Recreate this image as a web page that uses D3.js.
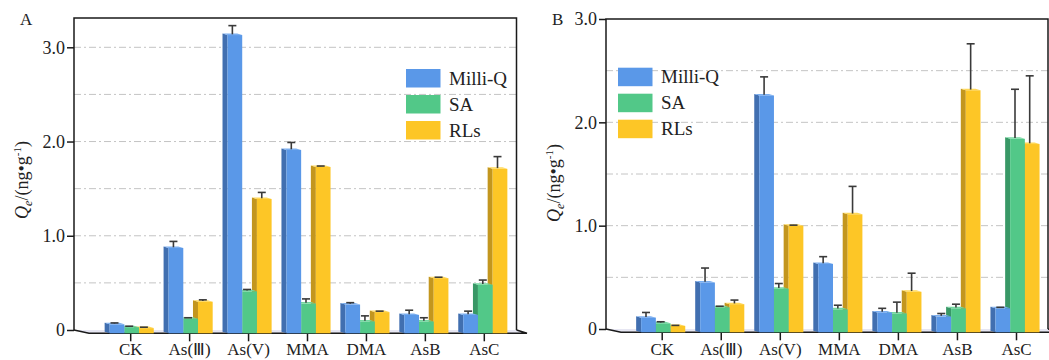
<!DOCTYPE html>
<html>
<head>
<meta charset="utf-8">
<script src="https://cdn.jsdelivr.net/npm/d3@7"></script>
<style>
  body { margin: 0; background: #fff; }
  svg { display: block; font-family: "Liberation Serif", "Times New Roman", serif; }
</style>
</head>
<body>
<svg id="chart"></svg>
<script>
const width = 1049;
const height = 360;
const svg = d3.select("svg#chart").attr("width", width).attr("height", height);

// categories and series
const categories = ["CK", "As(Ⅲ)", "As(V)", "MMA", "DMA", "AsB", "AsC"];
const seriesNames = ["Milli-Q", "SA", "RLs"];

// panel A values
const milliqA = [0.06, 0.87, 3.13, 1.91, 0.27, 0.16, 0.16];
const milliqErrA = [0.015, 0.07, 0.10, 0.08, 0.02, 0.05, 0.04];
const saA = [0.03, 0.12, 0.41, 0.28, 0.09, 0.09, 0.48];
const saErrA = [0.01, 0.01, 0.02, 0.05, 0.06, 0.04, 0.05];
const rlsA = [0.02, 0.30, 1.39, 1.73, 0.19, 0.55, 1.71];
const rlsErrA = [0.01, 0.02, 0.07, 0.01, 0.01, 0.01, 0.13];

// panel B values
const milliqB = [0.11, 0.45, 2.26, 0.63, 0.16, 0.12, 0.20];
const milliqErrB = [0.05, 0.14, 0.18, 0.07, 0.04, 0.03, 0.01];
const saB = [0.055, 0.21, 0.39, 0.19, 0.15, 0.20, 1.84];
const saErrB = [0.015, 0.01, 0.05, 0.04, 0.11, 0.04, 0.48];
const rlsB = [0.03, 0.24, 1.00, 1.11, 0.36, 2.31, 1.79];
const rlsErrB = [0.005, 0.04, 0.005, 0.27, 0.18, 0.45, 0.66];

const yTicks = [0, 1, 2, 3];
const gridValues = [0.5, 1, 1.5, 2, 2.5, 3];

// front, side, top colours per series
const colors = {
  "Milli-Q": { front: "#5a98e8", side: "#416fb0", top: "#7aaef0" },
  "SA":      { front: "#52c888", side: "#389866", top: "#74d8a0" },
  "RLs":     { front: "#fdc626", side: "#c3961e", top: "#ffd858" }
};

const font = "\"Liberation Serif\", \"Times New Roman\", serif";
const depthX = 15, depthY = 3.3;   // floor perspective
const sideX = 5, sideY = 1.5;      // bar side face
const barW = 14.7;

function drawPanel(p) {
  const g = svg.append("g").attr("class", "panel-" + p.label);

  const y = d3.scaleLinear().domain([0, 3]).range([p.y0, p.y3]);
  const x = d3.scalePoint().domain(categories).range([p.tickFirst, p.tickLast]);
  const sx = d3.scaleBand().domain(seriesNames)
    .range([-1.5 * barW + 1.5, 1.5 * barW + 1.5]).padding(0);

  const floorY = p.y0 + depthY;

  // dash-dot grid
  g.append("g").selectAll("line")
    .data(gridValues.filter(v => y(v) > p.top + 1))
    .enter().append("line")
    .attr("x1", p.axisX).attr("x2", p.rightX)
    .attr("y1", d => y(d)).attr("y2", d => y(d))
    .attr("stroke", "#c4c4c4").attr("stroke-width", 1)
    .attr("stroke-dasharray", "7,3,2,3");

  // floor
  g.append("path")
    .attr("d", "M" + p.axisX + "," + p.y0 + "L" + p.rightX + "," + p.y0 +
      "L" + p.floorRight + "," + floorY + "L" + (p.axisX + depthX) + "," + floorY + "Z")
    .attr("fill", "#e6e6f2").attr("stroke", "none");
  g.append("path")
    .attr("d", "M" + p.axisX + "," + p.y0 + "L" + (p.axisX + depthX) + "," + floorY +
      "L" + p.floorRight + "," + floorY + "L" + p.rightX + "," + p.y0)
    .attr("fill", "none").attr("stroke", "#1a1a1a").attr("stroke-width", 1.5);

  // frame
  g.append("path")
    .attr("d", "M" + p.axisX + "," + p.y0 + "V" + p.top + "H" + p.rightX + "V" + p.y0)
    .attr("fill", "none").attr("stroke", "#1a1a1a").attr("stroke-width", 1.5);

  // y axis
  const yAxis = g.append("g")
    .attr("transform", "translate(" + p.axisX + ",0)")
    .call(d3.axisLeft(y).tickValues(yTicks).tickSize(7).tickPadding(2)
      .tickFormat(d => d === 0 ? "0" : d3.format(".1f")(d)));
  yAxis.select(".domain").remove();
  yAxis.selectAll("line").attr("stroke", "#1a1a1a").attr("stroke-width", 1.5);
  yAxis.selectAll("text").style("font-family", font).style("font-size", "18px").attr("fill", "#222");

  // x axis
  const xAxis = g.append("g")
    .attr("transform", "translate(0," + floorY + ")")
    .call(d3.axisBottom(x).tickSize(8));
  xAxis.select(".domain").remove();
  xAxis.selectAll("line").attr("stroke", "#1a1a1a").attr("stroke-width", 1.5);
  xAxis.selectAll("text")
    .attr("y", 355 - floorY).attr("dy", 0)
    .style("font-family", font).style("font-size", "17px").attr("fill", "#222");

  // bars
  const rows = categories.map((c, i) => ({
    cat: c,
    vals: [
      { s: "Milli-Q", v: p.milliq[i], e: p.milliqErr[i] },
      { s: "SA", v: p.sa[i], e: p.saErr[i] },
      { s: "RLs", v: p.rls[i], e: p.rlsErr[i] }
    ]
  }));

  const groups = g.append("g").selectAll("g")
    .data(rows).enter().append("g")
    .attr("transform", d => "translate(" + x(d.cat) + ",0)");

  const bars = groups.selectAll("g.bar")
    .data(d => d.vals.slice().reverse())
    .enter().append("g").attr("class", "bar");

  bars.append("path")   // side face
    .attr("d", d => {
      const x0 = sx(d.s), t = y(d.v);
      return "M" + x0 + "," + t + "L" + (x0 - sideX) + "," + (t - sideY) +
        "L" + (x0 - sideX) + "," + (floorY - sideY) + "L" + x0 + "," + floorY + "Z";
    })
    .attr("fill", d => colors[d.s].side);
  bars.append("path")   // top face
    .attr("d", d => {
      const x0 = sx(d.s), t = y(d.v);
      return "M" + x0 + "," + t + "L" + (x0 + barW) + "," + t +
        "L" + (x0 + barW - sideX) + "," + (t - sideY) + "L" + (x0 - sideX) + "," + (t - sideY) + "Z";
    })
    .attr("fill", d => colors[d.s].top);
  bars.append("rect")   // front face
    .attr("x", d => sx(d.s))
    .attr("y", d => y(d.v))
    .attr("width", barW)
    .attr("height", d => floorY - y(d.v))
    .attr("fill", d => colors[d.s].front);

  // error bars (drawn after all bars)
  const errs = groups.selectAll("g.err")
    .data(d => d.vals).enter().append("g").attr("class", "err")
    .attr("stroke", "#3a3a3a").attr("stroke-width", 1.6);
  errs.append("line")
    .attr("x1", d => sx(d.s) + (barW - sideX) / 2).attr("x2", d => sx(d.s) + (barW - sideX) / 2)
    .attr("y1", d => y(d.v) - sideY / 2).attr("y2", d => y(d.v + d.e));
  errs.append("line")
    .attr("x1", d => sx(d.s) + (barW - sideX) / 2 - 4).attr("x2", d => sx(d.s) + (barW - sideX) / 2 + 4)
    .attr("y1", d => y(d.v + d.e)).attr("y2", d => y(d.v + d.e));

  // legend
  const legend = g.append("g").attr("transform", "translate(" + p.legendX + "," + p.legendY + ")");
  const items = legend.selectAll("g").data(seriesNames).enter().append("g")
    .attr("transform", (d, i) => "translate(0," + (i * 26) + ")");
  items.append("rect").attr("width", 34.5).attr("height", 18.5)
    .attr("fill", d => colors[d].front);
  items.append("text").attr("x", 43).attr("y", 15.5)
    .style("font-family", font).style("font-size", "19px").attr("fill", "#222")
    .text(d => d);

  // panel letter
  g.append("text").attr("x", p.letterX).attr("y", 25)
    .style("font-family", font).style("font-size", "17px").attr("fill", "#222")
    .text(p.label);

  // y title
  const yt = g.append("text")
    .attr("transform", "translate(" + p.titleX + "," + p.titleY + ") rotate(-90)")
    .attr("text-anchor", "middle")
    .style("font-family", font).style("font-size", "18px").attr("fill", "#222");
  yt.append("tspan").style("font-style", "italic").text("Q");
  yt.append("tspan").style("font-style", "italic").style("font-size", "12px").attr("dy", 4).text("e");
  yt.append("tspan").attr("dy", -4).text("/(ng•g");
  yt.append("tspan").style("font-size", "11px").attr("dy", -7).text("-1");
  yt.append("tspan").attr("dy", 7).text(")");
}

drawPanel({
  label: "A", letterX: 20, titleX: 28, titleY: 180,
  axisX: 74, rightX: 516.5, floorRight: 527, top: 18, y0: 330, y3: 47.3,
  tickFirst: 130.2, tickLast: 483.8,
  legendX: 406, legendY: 69,
  milliq: milliqA, milliqErr: milliqErrA, sa: saA, saErr: saErrA, rls: rlsA, rlsErr: rlsErrA
});

drawPanel({
  label: "B", letterX: 552, titleX: 560, titleY: 183,
  axisX: 606, rightX: 1048, floorRight: 1062, top: 19, y0: 329, y3: 19,
  tickFirst: 661.7, tickLast: 1016,
  legendX: 618, legendY: 67.7,
  milliq: milliqB, milliqErr: milliqErrB, sa: saB, saErr: saErrB, rls: rlsB, rlsErr: rlsErrB
});
</script>
</body>
</html>
